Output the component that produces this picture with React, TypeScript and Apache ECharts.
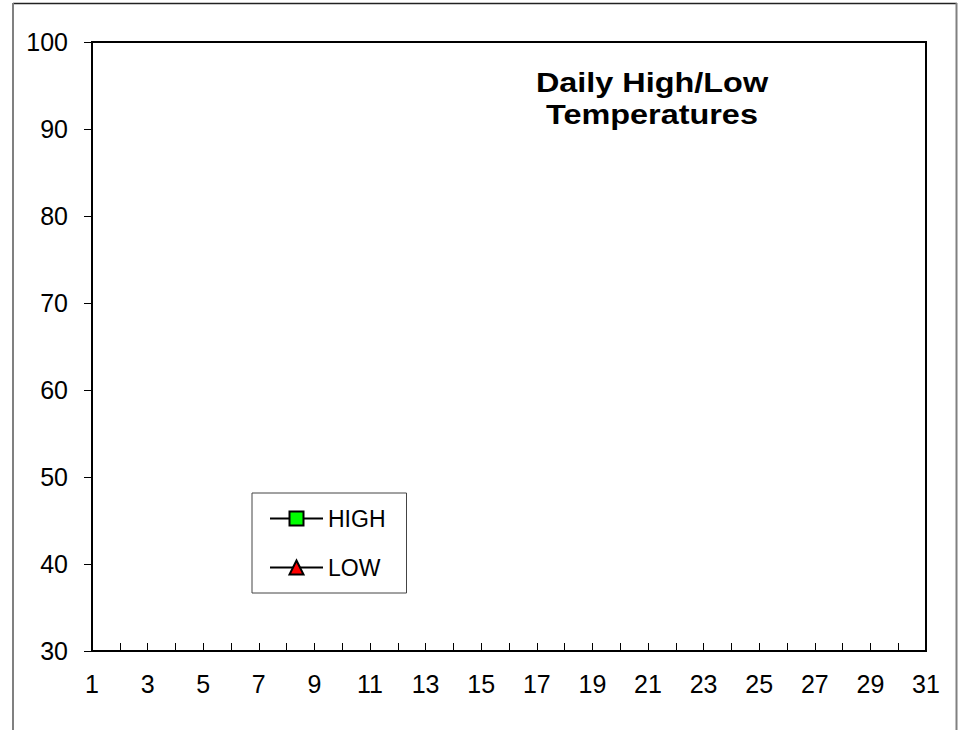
import React, { useEffect, useRef } from "react";
import * as echarts from "echarts";

const days: string[] = [
  "1", "2", "3", "4", "5", "6", "7", "8", "9", "10", "11", "12", "13", "14", "15", "16",
  "17", "18", "19", "20", "21", "22", "23", "24", "25", "26", "27", "28", "29", "30", "31",
];
const highTemps: (number | null)[] = [];
const lowTemps: (number | null)[] = [];
const titleLines: string[] = ["Daily High/Low", "Temperatures"];
const seriesNames: string[] = ["HIGH", "LOW"];

const FONT = "'Liberation Sans', Arial, sans-serif";

export default function App() {
  const ref = useRef<HTMLDivElement>(null);
  useEffect(() => {
    if (!ref.current) return;
    const chart = echarts.init(ref.current, undefined, { renderer: "svg" });
    chart.setOption({
      animation: false,
      backgroundColor: "#ffffff",
      textStyle: { fontFamily: FONT },
      grid: {
        left: 92,
        top: 42,
        right: 36,
        bottom: 79,
        show: true,
        borderColor: "#000",
        borderWidth: 2,
        backgroundColor: "transparent",
      },
      xAxis: {
        type: "category",
        data: days,
        boundaryGap: false,
        axisLine: { lineStyle: { color: "#000", width: 2 } },
        axisTick: { show: true, inside: true, length: 8, interval: 0, lineStyle: { color: "#000", width: 1 } },
        axisLabel: { interval: 1, color: "#000", fontSize: 25, fontFamily: FONT, margin: 20 },
        splitLine: { show: false },
      },
      yAxis: {
        type: "value",
        min: 30,
        max: 100,
        interval: 10,
        axisLine: { show: true, lineStyle: { color: "#000", width: 2 } },
        axisTick: { show: true, inside: false, length: 8, lineStyle: { color: "#000", width: 1 } },
        axisLabel: { color: "#000", fontSize: 25, fontFamily: FONT, margin: 24 },
        splitLine: { show: false },
      },
      legend: {
        show: true,
        orient: "vertical",
        left: 252,
        top: 493,
        padding: [14, 21, 14, 17],
        itemGap: 26,
        itemWidth: 53,
        itemHeight: 17.5,
        borderColor: "#444",
        borderWidth: 1,
        backgroundColor: "#fff",
        textStyle: { color: "#000", fontSize: 23, fontFamily: FONT },
        data: seriesNames,
      },
      series: [
        {
          name: seriesNames[0],
          type: "line",
          data: highTemps,
          symbol: "rect",
          symbolSize: 10,
          itemStyle: { color: "#00ff00", borderColor: "#000", borderWidth: 1 },
          lineStyle: { color: "#000", width: 2 },
        },
        {
          name: seriesNames[1],
          type: "line",
          data: lowTemps,
          symbol: "triangle",
          symbolSize: 10,
          itemStyle: { color: "#ff0000", borderColor: "#000", borderWidth: 1 },
          lineStyle: { color: "#000", width: 2 },
        },
      ],
      graphic: [
        { type: "line", shape: { x1: 13, y1: 3.5, x2: 957, y2: 3.5 }, style: { stroke: "#222", lineWidth: 1.5 } },
        { type: "line", shape: { x1: 13, y1: 3, x2: 13, y2: 740 }, style: { stroke: "#808080", lineWidth: 2 } },
        { type: "line", shape: { x1: 956.5, y1: 3, x2: 956.5, y2: 740 }, style: { stroke: "#808080", lineWidth: 2 } },
        {
          type: "text",
          x: 652,
          y: 82,
          scaleX: 1.2,
          style: {
            text: titleLines[0],
            fill: "#000",
            font: `bold 27px ${FONT}`,
            textAlign: "center",
            textVerticalAlign: "middle",
          },
        },
        {
          type: "text",
          x: 652,
          y: 114.5,
          scaleX: 1.2,
          style: {
            text: titleLines[1],
            fill: "#000",
            font: `bold 27px ${FONT}`,
            textAlign: "center",
            textVerticalAlign: "middle",
          },
        },
      ],
    });
    return () => chart.dispose();
  }, []);
  return (
    <div
      ref={ref}
      style={{ position: "absolute", left: 0, top: 0, width: 962, height: 730 }}
    />
  );
}
